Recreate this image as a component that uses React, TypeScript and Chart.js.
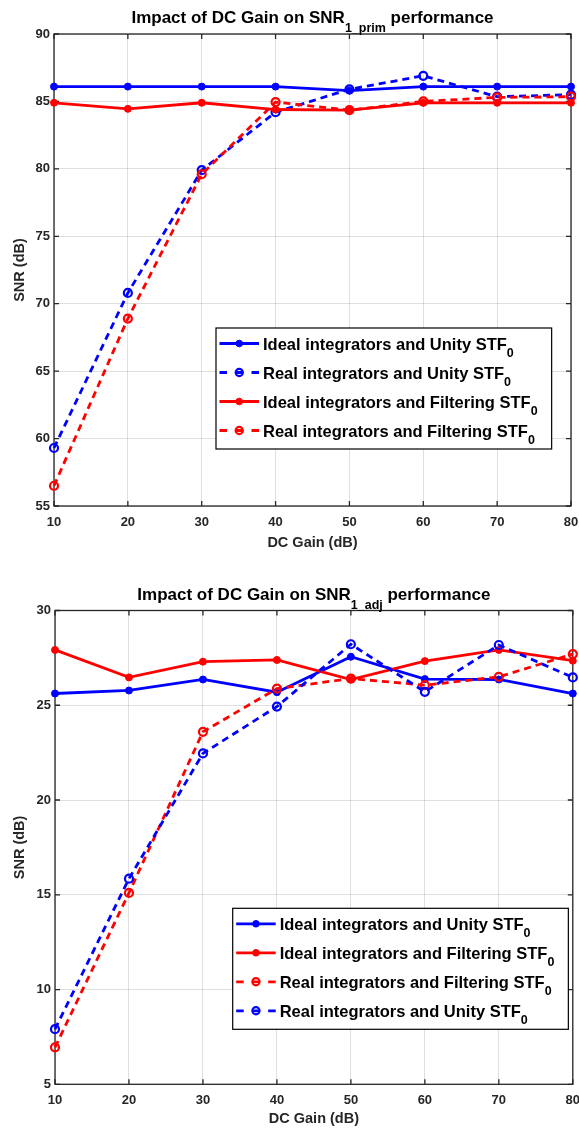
import React, { useEffect, useRef } from "react";
import { Chart, registerables } from "chart.js";

Chart.register(...registerables);

// ---------------- data ----------------
const dcGain = [10, 20, 30, 40, 50, 60, 70, 80];

// SNR_1_prim (top chart)
const primIdealUnity = [86.1, 86.1, 86.1, 86.1, 85.8, 86.1, 86.1, 86.1];
const primRealUnity = [59.3, 70.8, 79.9, 84.2, 85.9, 86.9, 85.35, 85.5];
const primIdealFilt = [84.9, 84.45, 84.9, 84.4, 84.35, 84.9, 84.9, 84.9];
const primRealFilt = [56.5, 68.9, 79.6, 84.95, 84.35, 85.0, 85.3, 85.35];

// SNR_1_adj (bottom chart)
const adjIdealUnity = [25.62, 25.78, 26.36, 25.69, 27.56, 26.38, 26.36, 25.62];
const adjIdealFilt = [27.92, 26.47, 27.3, 27.39, 26.36, 27.33, 27.92, 27.35];
const adjRealFilt = [6.95, 15.1, 23.6, 25.88, 26.41, 26.06, 26.5, 27.7];
const adjRealUnity = [7.91, 15.85, 22.46, 24.93, 28.22, 25.71, 28.18, 26.47];

const labelIdealUnity = "Ideal integrators and Unity STF{0}";
const labelRealUnity = "Real integrators and Unity STF{0}";
const labelIdealFilt = "Ideal integrators and Filtering STF{0}";
const labelRealFilt = "Real integrators and Filtering STF{0}";

const titlePrim = "Impact of DC Gain on SNR{1_prim} performance";
const titleAdj = "Impact of DC Gain on SNR{1_adj} performance";
const xTitle = "DC Gain (dB)";
const yTitle = "SNR (dB)";

const primYRange = [55, 90];
const adjYRange = [5, 30];
const xRange = [10, 80];

// ---------------- style ----------------
const FONT = "'Liberation Sans', Arial, Helvetica, sans-serif";
const BLUE = "#0000ff";
const RED = "#ff0000";
const GRID = "rgba(38,38,38,0.15)";
const AXIS = "#262626";

function splitRich(text: string): Array<[string, boolean]> {
  const m = text.match(/^(.*?)\{(.*?)\}(.*)$/);
  if (!m) return [[text, false]];
  return [
    [m[1], false],
    [m[2], true],
    [m[3], false],
  ];
}

function richWidth(ctx: CanvasRenderingContext2D, text: string, mainFont: string, subFont: string) {
  let w = 0;
  for (const [t, sub] of splitRich(text)) {
    ctx.font = sub ? subFont : mainFont;
    w += ctx.measureText(t).width;
  }
  return w;
}

function drawRich(
  ctx: CanvasRenderingContext2D,
  text: string,
  x: number,
  y: number,
  mainFont: string,
  subFont: string,
  subDy: number,
  align: "left" | "center"
) {
  const total = richWidth(ctx, text, mainFont, subFont);
  let cx = align === "center" ? x - total / 2 : x;
  ctx.textAlign = "left";
  ctx.textBaseline = "alphabetic";
  for (const [t, sub] of splitRich(text)) {
    ctx.font = sub ? subFont : mainFont;
    ctx.fillText(t, cx, sub ? y + subDy : y);
    cx += ctx.measureText(t).width;
  }
}

const framePlugin = {
  id: "frame",
  beforeDatasetsDraw(chart: any) {
    const { ctx, chartArea: a, scales } = chart;
    ctx.save();
    ctx.strokeStyle = AXIS;
    ctx.lineWidth = 1.3;
    ctx.setLineDash([]);
    ctx.strokeRect(a.left, a.top, a.right - a.left, a.bottom - a.top);
    const L = 5;
    ctx.beginPath();
    scales.x.ticks.forEach((t: any) => {
      const px = scales.x.getPixelForValue(t.value);
      ctx.moveTo(px, a.bottom);
      ctx.lineTo(px, a.bottom - L);
      ctx.moveTo(px, a.top);
      ctx.lineTo(px, a.top + L);
    });
    scales.y.ticks.forEach((t: any) => {
      const py = scales.y.getPixelForValue(t.value);
      ctx.moveTo(a.left, py);
      ctx.lineTo(a.left + L, py);
      ctx.moveTo(a.right, py);
      ctx.lineTo(a.right - L, py);
    });
    ctx.stroke();
    ctx.restore();
  },
};

const titlePlugin = {
  id: "mtitle",
  afterDraw(chart: any) {
    const o = chart.options.plugins.mtitle;
    if (!o) return;
    const { ctx, chartArea: a } = chart;
    ctx.save();
    ctx.fillStyle = "#000";
    drawRich(
      ctx,
      o.text,
      (a.left + a.right) / 2,
      a.top - 11,
      `bold 17px ${FONT}`,
      `bold 12.5px ${FONT}`,
      9,
      "center"
    );
    ctx.restore();
  },
};

const legendPlugin = {
  id: "mlegend",
  afterDraw(chart: any) {
    const o = chart.options.plugins.mlegend;
    if (!o) return;
    const { ctx, chartArea: a } = chart;
    const ds = chart.data.datasets;
    const mainFont = `bold 16.5px ${FONT}`;
    const subFont = `bold 12.5px ${FONT}`;
    ctx.save();
    let maxW = 0;
    ds.forEach((d: any) => {
      maxW = Math.max(maxW, richWidth(ctx, d.label, mainFont, subFont));
    });
    const textX = 47;
    const rowGap = 29;
    const boxL = a.left + o.dx;
    const boxT = a.top + o.dy;
    const w = textX + maxW + 14;
    const h = 15.5 + rowGap * (ds.length - 1) + 18.5;
    ctx.fillStyle = "#fff";
    ctx.fillRect(boxL, boxT, w, h);
    ctx.strokeStyle = "#000";
    ctx.lineWidth = 1.2;
    ctx.strokeRect(boxL, boxT, w, h);
    ds.forEach((d: any, i: number) => {
      const y = boxT + 15.5 + rowGap * i;
      const dashed = d.borderDash && d.borderDash.length > 0;
      ctx.strokeStyle = d.borderColor;
      ctx.lineWidth = d.borderWidth;
      ctx.setLineDash(dashed ? [7.5, 8.5] : []);
      ctx.beginPath();
      ctx.moveTo(boxL + 3.5, y);
      ctx.lineTo(boxL + 43, y);
      ctx.stroke();
      ctx.setLineDash([]);
      ctx.beginPath();
      ctx.arc(boxL + 23.25, y, dashed ? 3.6 : 3.3, 0, Math.PI * 2);
      if (!dashed) {
        ctx.fillStyle = d.borderColor;
        ctx.fill();
      }
      ctx.lineWidth = d.pointBorderWidth;
      ctx.strokeStyle = d.borderColor;
      ctx.stroke();
      ctx.fillStyle = "#000";
      drawRich(ctx, d.label, boxL + textX, y + 6, mainFont, subFont, 7.3, "left");
    });
    ctx.restore();
  },
};

type Series = { label: string; values: number[]; color: string; real: boolean };

function makeDataset(s: Series, n: number, i: number) {
  return {
    label: s.label,
    data: dcGain.map((x, k) => ({ x, y: s.values[k] })),
    borderColor: s.color,
    backgroundColor: s.color,
    borderWidth: 2.8,
    borderDash: s.real ? [7, 5] : [],
    pointRadius: s.real ? 4 : 3.5,
    pointBorderWidth: s.real ? 2.2 : 1,
    pointBackgroundColor: s.real ? "rgba(0,0,0,0)" : s.color,
    pointBorderColor: s.color,
    pointHoverRadius: s.real ? 4 : 3.5,
    tension: 0,
    fill: false,
    clip: false,
    order: n - i,
  };
}

type Spec = {
  series: Series[];
  yRange: number[];
  title: string;
  plotTop: number;
  plotLeft: number;
  padRight: number;
  xAxisHeight: number;
  xTitlePad: number;
  legendDx: number;
  legendDy: number;
};

function buildConfig(spec: Spec): any {
  const n = spec.series.length;
  const tickFont = { family: FONT, size: 13, weight: "bold" as const };
  const titleFont = { family: FONT, size: 14.5, weight: "bold" as const };
  return {
    type: "line",
    data: { datasets: spec.series.map((s, i) => makeDataset(s, n, i)) },
    options: {
      animation: false,
      responsive: true,
      maintainAspectRatio: false,
      events: [],
      layout: { padding: { top: spec.plotTop, right: spec.padRight, bottom: 0, left: 0 } },
      scales: {
        x: {
          type: "linear",
          min: xRange[0],
          max: xRange[1],
          ticks: { stepSize: 10, color: AXIS, font: tickFont, padding: 8.5, maxRotation: 0, autoSkip: false },
          grid: { color: GRID, lineWidth: 1, drawTicks: false },
          border: { display: false },
          title: { display: true, text: xTitle, color: AXIS, font: titleFont, padding: { top: 0, bottom: spec.xTitlePad } },
          afterFit: (scale: any) => {
            scale.height = spec.xAxisHeight;
            scale.paddingLeft = 0;
            scale.paddingRight = 0;
          },
        },
        y: {
          type: "linear",
          min: spec.yRange[0],
          max: spec.yRange[1],
          ticks: { stepSize: 5, color: AXIS, font: tickFont, padding: 4 },
          grid: { color: GRID, lineWidth: 1, drawTicks: false },
          border: { display: false },
          title: { display: true, text: yTitle, color: AXIS, font: titleFont, padding: { top: 11.3, bottom: 0 } },
          afterFit: (scale: any) => {
            scale.width = spec.plotLeft;
            scale.paddingTop = 0;
            scale.paddingBottom = 0;
          },
        },
      },
      plugins: {
        legend: { display: false },
        tooltip: { enabled: false },
        title: { display: false },
        mtitle: { text: spec.title },
        mlegend: { dx: spec.legendDx, dy: spec.legendDy },
      },
    },
    plugins: [framePlugin, titlePlugin, legendPlugin],
  };
}

const topSpec: Spec = {
  series: [
    { label: labelIdealUnity, values: primIdealUnity, color: BLUE, real: false },
    { label: labelRealUnity, values: primRealUnity, color: BLUE, real: true },
    { label: labelIdealFilt, values: primIdealFilt, color: RED, real: false },
    { label: labelRealFilt, values: primRealFilt, color: RED, real: true },
  ],
  yRange: primYRange,
  title: titlePrim,
  plotTop: 34,
  plotLeft: 54,
  padRight: 8,
  xAxisHeight: 59,
  xTitlePad: 13.3,
  legendDx: 162,
  legendDy: 294,
};

const bottomSpec: Spec = {
  series: [
    { label: labelIdealUnity, values: adjIdealUnity, color: BLUE, real: false },
    { label: labelIdealFilt, values: adjIdealFilt, color: RED, real: false },
    { label: labelRealFilt, values: adjRealFilt, color: RED, real: true },
    { label: labelRealUnity, values: adjRealUnity, color: BLUE, real: true },
  ],
  yRange: adjYRange,
  title: titleAdj,
  plotTop: 45.5,
  plotLeft: 55,
  padRight: 5,
  xAxisHeight: 43.7,
  xTitlePad: 0.3,
  legendDx: 177.7,
  legendDy: 297.8,
};

function ChartPanel({ spec, top, height }: { spec: Spec; top: number; height: number }) {
  const ref = useRef<HTMLCanvasElement | null>(null);
  useEffect(() => {
    if (!ref.current) return;
    const chart = new Chart(ref.current, buildConfig(spec));
    return () => chart.destroy();
  }, [spec]);
  return (
    <div style={{ position: "absolute", left: 0, top, width: 579, height }}>
      <canvas ref={ref} />
    </div>
  );
}

export default function App() {
  return (
    <div style={{ position: "absolute", left: 0, top: 0, width: 579, height: 1128, background: "#fff", overflow: "hidden" }}>
      <ChartPanel spec={topSpec} top={0} height={565} />
      <ChartPanel spec={bottomSpec} top={565} height={563} />
    </div>
  );
}
